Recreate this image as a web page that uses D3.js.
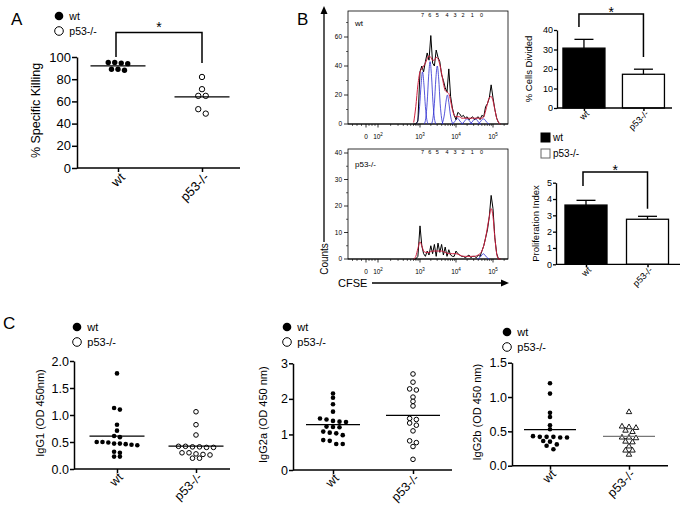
<!DOCTYPE html>
<html><head><meta charset="utf-8">
<script src="https://cdn.jsdelivr.net/npm/d3@7"></script>
<style>body{margin:0;background:#fff}svg{display:block}</style>
</head><body><svg id="c" width="683" height="513"></svg>
<script>
// ---------------- DATA ----------------
const groups = ["wt", "p53-/-"];

// Panel A: % specific killing
const killingTicks = [0, 20, 40, 60, 80, 100];
const killingWt = [95, 94, 94.5, 95, 89, 88, 89];
const killingP53 = [82, 71, 65, 65, 53, 49];
const killingSig = {top: 122, left: 100, right: 94.5};

// Panel B: % cells divided and proliferation index (mean, SEM)
const dividedTicks = [0, 10, 20, 30, 40];
const dividedMean = [30.7, 17.3];
const dividedSem = [4.5, 2.6];
const dividedSig = {top: 48.2, left: 41.5, right: 26.2};
const prolifTicks = [0, 1, 2, 3, 4, 5];
const prolifMean = [3.63, 2.76];
const prolifSem = [0.29, 0.18];
const prolifSig = {top: 5.66, left: 4.8, right: 3.4};

// Panel B: CFSE histograms (x = log10 CFSE, y = counts)
const cfseLog = [2.85, 2.90, 2.95, 3.00, 3.05, 3.10, 3.15, 3.20, 3.25, 3.30, 3.35, 3.40, 3.45, 3.50, 3.55, 3.60,
  3.65, 3.70, 3.75, 3.80, 3.85, 3.90, 3.95, 4.00, 4.05, 4.10, 4.15, 4.20, 4.25, 4.30, 4.35, 4.40,
  4.45, 4.50, 4.55, 4.60, 4.65, 4.70, 4.75, 4.80, 4.85, 4.90, 4.95, 5.00, 5.05, 5.10, 5.15, 5.20];
const wtCounts = [0, 0, 2, 36, 40, 36, 43, 49, 44, 61, 42, 40, 51, 46, 43, 34,
  30, 25, 22, 38, 19, 11, 6, 3, 8, 7, 5, 6, 4, 5, 3, 4,
  5, 3, 4, 5, 3, 6, 5, 12, 14, 18, 27, 18, 10, 4, 1, 0];
const wtFit = [1, 12, 27, 36, 38, 40, 42, 45, 47, 46, 44, 44, 46, 45, 41, 35,
  28, 23, 22, 21, 16, 10, 6, 5, 5, 5, 4, 4, 4, 4, 4, 4,
  4, 4, 4, 4, 4, 4, 5, 9, 14, 18, 19, 16, 10, 4, 1, 0];
const p53Counts = [0, 0, 1, 12.5, 5, 2, 1, 3, 1.5, 5, 2, 5.5, 1, 6, 2.5, 5.5,
  1.5, 4.5, 1, 3.5, 1.5, 1, 1, 3, 2, 1.5, 1, 1, 0.5, 1, 1.5, 0.5,
  1, 1, 0.5, 1.5, 1, 3, 5, 8, 11, 16, 24, 19, 8, 2, 0, 0];
const p53Fit = [0, 1, 4, 6.5, 5, 3, 2.5, 2.5, 2.5, 2.8, 3, 3, 3, 3, 3, 3,
  2.8, 2.5, 2.2, 2, 2, 2, 2, 2, 1.8, 1.5, 1.2, 1, 1, 1, 1, 1,
  1, 1, 1.2, 1.5, 2, 3, 5, 8, 12, 16, 19, 16, 8, 2, 0, 0];
// generation (division) peaks: offsets around each centre and heights
const peakOffsets = [-0.16, -0.12, -0.08, -0.04, 0, 0.04, 0.08, 0.12, 0.16];
const wtPeakCentres = [3.07, 3.28, 3.48, 3.76, 4.04, 4.30, 4.52, 4.74];
const wtPeakHeights = [
  [0, 3, 12, 27, 36, 27, 12, 3, 0],
  [0, 4, 15, 33, 43, 33, 15, 4, 0],
  [0, 4, 14, 31, 40, 31, 14, 4, 0],
  [0, 2, 7, 15, 20, 15, 7, 2, 0],
  [0, 0.5, 1.5, 3, 4, 3, 1.5, 0.5, 0],
  [0, 0.5, 1.5, 3, 3.5, 3, 1.5, 0.5, 0],
  [0, 0.5, 1.5, 3, 3.5, 3, 1.5, 0.5, 0],
  [0, 0.5, 1.5, 3, 3.5, 3, 1.5, 0.5, 0]];
const p53PeakCentres = [4.74];
const p53PeakHeights = [[0, 0.3, 0.8, 1.5, 2, 1.5, 0.8, 0.3, 0]];
const genLabels = ["7", "6", "5", "4", "3", "2", "1", "0"];
const genLabelPos = [3.07, 3.27, 3.48, 3.75, 3.97, 4.19, 4.44, 4.69];
const wtCountTicks = [0, 20, 40, 60];
const p53CountTicks = [0, 10, 20, 30, 40];

// Panel C: immunoglobulins
const igg1Ticks = [0, 0.5, 1.0, 1.5, 2.0];
const igg1Wt = [1.77, 1.13, 1.10, 0.82, 0.71, 0.61, 0.59, 0.50, 0.47, 0.45, 0.44, 0.46, 0.47, 0.49, 0.50, 0.32, 0.30, 0.23, 0.23];
const igg1P53 = [1.06, 0.82, 0.63, 0.41, 0.40, 0.42, 0.40, 0.41, 0.42, 0.30, 0.28, 0.26, 0.20, 0.20, 0.27, 0.30];
const igg2aTicks = [0, 1, 2, 3];
const igg2aWt = [2.15, 2.03, 1.85, 1.64, 1.45, 1.42, 1.38, 1.36, 1.35, 1.22, 1.21, 1.20, 1.08, 1.05, 1.03, 0.98, 0.84, 0.82, 0.73, 0.73];
const igg2aP53 = [2.70, 2.47, 2.28, 2.25, 2.05, 1.93, 1.80, 1.45, 1.42, 1.32, 1.26, 1.10, 0.82, 0.77, 0.66, 0.30];
const igg2bTicks = [0, 0.5, 1.0, 1.5];
const igg2bWt = [1.20, 1.05, 0.77, 0.71, 0.59, 0.53, 0.43, 0.42, 0.41, 0.36, 0.35, 0.41, 0.42, 0.42, 0.29, 0.31, 0.24];
const igg2bP53 = [0.79, 0.57, 0.56, 0.58, 0.50, 0.52, 0.41, 0.42, 0.42, 0.35, 0.36, 0.29, 0.23, 0.23, 0.17];

// ---------------- DRAWING ----------------
const FONT = '"Liberation Sans", Arial, Helvetica, sans-serif';
const svg = d3.select("#c").attr("font-family", FONT);

function styleAxis(a, size, lw) {
  a.attr("font-family", FONT).attr("font-size", size);
  a.selectAll(".domain").attr("stroke-width", lw).attr("stroke", "#000");
  a.selectAll(".tick line").attr("stroke-width", lw).attr("stroke", "#000");
  a.selectAll(".tick text").attr("fill", "#000");
}

function yTitle(text, x, y, size) {
  svg.append("text").attr("transform", `translate(${x},${y}) rotate(-90)`)
    .attr("text-anchor", "middle").attr("dy", "0.35em").attr("font-size", size).text(text);
}

function rotatedXAxis(x, y0, size, dx, dy, tick) {
  const xa = svg.append("g").attr("transform", `translate(0,${y0})`)
    .call(d3.axisBottom(x).tickSize(tick).tickSizeOuter(0));
  xa.select(".domain").remove();
  styleAxis(xa, size, 1.5);
  xa.selectAll(".tick text").attr("y", 0).attr("dy", "0.35em").attr("text-anchor", "end")
    .attr("transform", `translate(${dx},${dy}) rotate(-45)`);
}

function swarm(values, cx, y, gap, spacing) {
  const pts = values.map(v => ({v, y: y(v)})).sort((a, b) => a.y - b.y);
  const rows = [];
  pts.forEach(p => {
    const last = rows[rows.length - 1];
    if (last && p.y - last[0].y < gap) last.push(p); else rows.push([p]);
  });
  rows.forEach(row => {
    const n = row.length;
    const order = row.slice().sort((a, b) => a.v - b.v);
    row.forEach((p, i) => { p.x = cx + (i - (n - 1) / 2) * spacing; });
  });
  return pts;
}

function sigBracket(xl, xr, yTop, yl, yr, starOff, starSize) {
  svg.append("path").attr("d", `M${xl},${yl}V${yTop}H${xr}V${yr}`)
    .attr("fill", "none").attr("stroke", "#000").attr("stroke-width", 1.5);
  svg.append("text").attr("x", (xl + xr) / 2).attr("y", yTop - starOff + starSize * 0.57)
    .attr("text-anchor", "middle").attr("font-size", starSize).text("*");
}

function scatterPanel(c) {
  const y = d3.scaleLinear().domain([0, c.max]).range([c.y0, c.y1]);
  const x = d3.scalePoint().domain(groups).range(c.centers);
  const ya = svg.append("g").attr("transform", `translate(${c.ax},0)`)
    .call(d3.axisLeft(y).tickValues(c.ticks).tickFormat(c.fmt).tickSize(c.tick).tickSizeOuter(0).tickPadding(c.pad));
  styleAxis(ya, c.tickFont, 1.5);
  svg.append("line").attr("x1", c.ax).attr("x2", c.xEnd).attr("y1", c.y0).attr("y2", c.y0)
    .attr("stroke", "#000").attr("stroke-width", 1.5);
  rotatedXAxis(x, c.y0, c.labelFont, c.ldx, c.ldy, 4);
  yTitle(c.title, c.titleX, (c.y0 + c.y1) / 2 - 2, c.titleFont);
  c.sets.forEach((vals, gi) => {
    const cx = x(groups[gi]);
    const pts = swarm(vals, cx, y, c.gap, c.spacing[gi]);
    const shape = c.shapes[gi];
    pts.forEach(p => {
      if (shape === "triangle") {
        svg.append("path").attr("d", d3.symbol(d3.symbolTriangle, c.triSize)())
          .attr("transform", `translate(${p.x},${p.y + 0.6})`)
          .attr("fill", "#fff").attr("stroke", "#000").attr("stroke-width", 0.9);
      } else {
        svg.append("circle").attr("cx", p.x).attr("cy", p.y).attr("r", c.r)
          .attr("fill", shape === "filled" ? "#000" : "#fff")
          .attr("stroke", "#000").attr("stroke-width", shape === "filled" ? 0 : 1);
      }
    });
    const m = d3.mean(vals);
    svg.append("line").attr("x1", cx - c.half).attr("x2", cx + c.half).attr("y1", y(m)).attr("y2", y(m))
      .attr("stroke", c.lineColors[gi]).attr("stroke-width", 1.3);
  });
  return {x, y};
}

function circleLegend(x, y, gap, r, size) {
  groups.forEach((g, i) => {
    svg.append("circle").attr("cx", x).attr("cy", y + i * gap).attr("r", r)
      .attr("fill", i === 0 ? "#000" : "#fff").attr("stroke", "#000").attr("stroke-width", i === 0 ? 0 : 1);
    svg.append("text").attr("x", x + r + 6).attr("y", y + i * gap).attr("dy", "0.35em")
      .attr("font-size", size).text(g);
  });
}

function panelLabel(t, x, y) {
  svg.append("text").attr("x", x).attr("y", y).attr("font-size", 17).text(t);
}

// ---- Panel A ----
panelLabel("A", 11, 25);
circleLegend(59, 16, 15, 4.3, 10.5);
const A = scatterPanel({max: 100, y0: 168, y1: 57, ax: 77, xEnd: 240, centers: [118, 202],
  ticks: killingTicks, fmt: d3.format("d"), tick: 5, pad: 1, tickFont: 13,
  labelFont: 13, ldx: 4, ldy: 7, title: "% Specific Killing", titleX: 36, titleFont: 12.5,
  sets: [killingWt, killingP53], shapes: ["filled", "open"], r: 2.7, gap: 5, spacing: [6.5, 7.5],
  half: 27.5, lineColors: ["#000", "#000"]});
sigBracket(A.x("wt") - 2, A.x("p53-/-"), A.y(killingSig.top), A.y(killingSig.left), A.y(killingSig.right), 9, 14);

// ---- Panel C ----
panelLabel("C", 3, 329);
circleLegend(77, 327, 15, 4.3, 11);
scatterPanel({max: 2, y0: 469, y1: 361, ax: 74, xEnd: 230, centers: [117, 196],
  ticks: igg1Ticks, fmt: d3.format(".1f"), tick: 4, pad: 1, tickFont: 12.5,
  labelFont: 12.5, ldx: 3, ldy: 6, title: "IgG1 (OD 450nm)", titleX: 40, titleFont: 11,
  sets: [igg1Wt, igg1P53], shapes: ["filled", "open"], r: 2.3, gap: 4, spacing: [5.8, 7],
  half: 27.5, lineColors: ["#000", "#000"]});
circleLegend(287, 327, 15, 4.3, 11);
scatterPanel({max: 3, y0: 470, y1: 363.3, ax: 293, xEnd: 452, centers: [333, 413],
  ticks: igg2aTicks, fmt: d3.format("d"), tick: 4, pad: 1, tickFont: 12.5,
  labelFont: 12.5, ldx: 3, ldy: 6, title: "IgG2a (OD 450 nm)", titleX: 263, titleFont: 11,
  sets: [igg2aWt, igg2aP53], shapes: ["filled", "open"], r: 2.3, gap: 4, spacing: [6.5, 6.7],
  half: 27, lineColors: ["#000", "#000"]});
circleLegend(507, 332, 15, 4.3, 11);
scatterPanel({max: 1.5, y0: 465.7, y1: 362.7, ax: 512, xEnd: 668, centers: [550, 629],
  ticks: igg2bTicks, fmt: d3.format(".1f"), tick: 4, pad: 1, tickFont: 12.5,
  labelFont: 12.5, ldx: 3, ldy: 6, title: "IgG2b (OD 450 nm)", titleX: 477, titleFont: 11,
  sets: [igg2bWt, igg2bP53], shapes: ["filled", "triangle"], r: 2.3, gap: 4, spacing: [6.8, 7],
  triSize: 13, half: 26, lineColors: ["#000", "#777"]});

// ---- Panel B bars ----
function barPanel(c) {
  const y = d3.scaleLinear().domain([0, c.max]).range([c.y0, c.y1]);
  const x = d3.scaleBand().domain(groups).range(c.range).paddingInner(c.pi).paddingOuter(c.po);
  c.mean.forEach((m, i) => {
    const g = groups[i];
    const xc = x(g) + x.bandwidth() / 2;
    svg.append("line").attr("x1", xc).attr("x2", xc).attr("y1", y(m)).attr("y2", y(m + c.sem[i]))
      .attr("stroke", "#000").attr("stroke-width", 1.3);
    svg.append("line").attr("x1", xc - c.cap).attr("x2", xc + c.cap).attr("y1", y(m + c.sem[i])).attr("y2", y(m + c.sem[i]))
      .attr("stroke", "#000").attr("stroke-width", 1.3);
    svg.append("rect").attr("x", x(g)).attr("y", y(m)).attr("width", x.bandwidth()).attr("height", y(0) - y(m))
      .attr("fill", i === 0 ? "#000" : "#fff").attr("stroke", "#000").attr("stroke-width", 1.3);
  });
  const ya = svg.append("g").attr("transform", `translate(${c.ax},0)`)
    .call(d3.axisLeft(y).tickValues(c.ticks).tickFormat(d3.format("d")).tickSize(3).tickSizeOuter(0).tickPadding(1));
  styleAxis(ya, 9, 1.3);
  svg.append("line").attr("x1", c.ax).attr("x2", c.xEnd).attr("y1", c.y0).attr("y2", c.y0)
    .attr("stroke", "#000").attr("stroke-width", 1.3);
  const xp = d3.scalePoint().domain(groups).range([x(groups[0]) + x.bandwidth() / 2, x(groups[1]) + x.bandwidth() / 2]);
  rotatedXAxis(xp, c.y0, 9, 3, 4, 3);
  yTitle(c.title, c.titleX, (c.y0 + c.y1) / 2, c.titleFont);
  return {x: g => x(g) + x.bandwidth() / 2, y};
}
const B1 = barPanel({max: 40, y0: 108, y1: 30, ax: 557, xEnd: 672, range: [557, 670.4], pi: 0.294, po: 0.1,
  mean: dividedMean, sem: dividedSem, ticks: dividedTicks, cap: 9.5, title: "% Cells Divided", titleX: 529, titleFont: 9.5});
sigBracket(B1.x("wt") - 5, B1.x("p53-/-"), B1.y(dividedSig.top), B1.y(dividedSig.left), B1.y(dividedSig.right), 5, 14);
const B2 = barPanel({max: 5, y0: 264.3, y1: 182.7, ax: 556, xEnd: 680, range: [556, 677.5], pi: 0.317, po: 0.146,
  mean: prolifMean, sem: prolifSem, ticks: prolifTicks, cap: 9.5, title: "Proliferation Index", titleX: 536, titleFont: 9.5});
sigBracket(B2.x("wt") - 3, B2.x("p53-/-"), B2.y(prolifSig.top), B2.y(prolifSig.left), B2.y(prolifSig.right), 5, 14);
// bar legend
groups.forEach((g, i) => {
  svg.append("rect").attr("x", 541).attr("y", 133 + i * 16).attr("width", 9).attr("height", 9)
    .attr("fill", i === 0 ? "#000" : "#fff").attr("stroke", i === 0 ? "#000" : "#666").attr("stroke-width", 1);
  svg.append("text").attr("x", 553).attr("y", 137.5 + i * 16).attr("dy", "0.35em").attr("font-size", 10).text(g);
});

// ---- Panel B histograms ----
panelLabel("B", 297, 25);
const cfseX = d3.scaleLinear().domain([-2, 0, 2, 3, 4, 5]).range([348, 366, 378, 420, 456, 493]);
const cfseMajor = [0, 2, 3, 4, 5];
const cfseMinor = [-1.5, -1, -0.5, 0.5, 1, 1.5].concat(
  [2, 3, 4].flatMap(d => d3.range(2, 10).map(k => d + Math.log10(k))), [5 + Math.log10(2)]);

function histPanel(c) {
  const y = d3.scaleLinear().domain([0, c.max]).range([c.y0, c.y1]);
  const g = svg.append("g");
  g.append("rect").attr("x", 348).attr("y", c.top).attr("width", 160).attr("height", c.y0 - c.top)
    .attr("fill", "none").attr("stroke", "#000").attr("stroke-width", 0.8);
  // y ticks
  c.ticks.forEach(t => {
    g.append("line").attr("x1", 344).attr("x2", 348).attr("y1", y(t)).attr("y2", y(t)).attr("stroke", "#000").attr("stroke-width", 0.8);
    g.append("text").attr("x", 342).attr("y", y(t)).attr("dy", "0.35em").attr("text-anchor", "end")
      .attr("font-size", 6.5).text(t);
  });
  c.minor.forEach(t => {
    if (y(t) > c.top) g.append("line").attr("x1", 346).attr("x2", 348).attr("y1", y(t)).attr("y2", y(t)).attr("stroke", "#000").attr("stroke-width", 0.6);
  });
  // x ticks
  cfseMinor.forEach(t => g.append("line").attr("x1", cfseX(t)).attr("x2", cfseX(t)).attr("y1", c.y0).attr("y2", c.y0 + 2)
    .attr("stroke", "#000").attr("stroke-width", 0.6));
  cfseMajor.forEach(t => {
    g.append("line").attr("x1", cfseX(t)).attr("x2", cfseX(t)).attr("y1", c.y0).attr("y2", c.y0 + 3.5)
      .attr("stroke", "#000").attr("stroke-width", 0.8);
    const tx = g.append("text").attr("x", cfseX(t)).attr("y", c.y0 + 15).attr("text-anchor", "middle").attr("font-size", 6.5);
    if (t === 0) tx.text("0");
    else { tx.append("tspan").text("10"); tx.append("tspan").attr("dy", -3).attr("font-size", 4.5).text(t); }
  });
  g.append("line").attr("x1", 348).attr("x2", 508).attr("y1", c.y0).attr("y2", c.y0).attr("stroke", "#000").attr("stroke-width", 1.2);
  // curves
  const line = d3.line().x(d => cfseX(d[0])).y(d => y(d[1]));
  c.peakCentres.forEach((cc, i) => {
    g.append("path").attr("d", line.curve(d3.curveMonotoneX)(peakOffsets.map((o, j) => [cc + o, c.peakHeights[i][j]])))
      .attr("fill", "none").attr("stroke", "#2b2bd0").attr("stroke-width", 0.8);
  });
  g.append("path").attr("d", line.curve(d3.curveLinear)(cfseLog.map((v, i) => [v, c.counts[i]])))
    .attr("fill", "none").attr("stroke", "#000").attr("stroke-width", 1);
  g.append("path").attr("d", line.curve(d3.curveMonotoneX)(cfseLog.map((v, i) => [v, c.fit[i]])))
    .attr("fill", "none").attr("stroke", "#d02040").attr("stroke-width", 1);
  // labels
  g.append("text").attr("x", 355).attr("y", c.labelY).attr("dy", "0.35em").attr("font-size", 8).text(c.label);
  genLabels.forEach((t, i) => g.append("text").attr("x", cfseX(genLabelPos[i])).attr("y", c.genY).attr("dy", "0.35em")
    .attr("text-anchor", "middle").attr("font-size", 5.5).text(t));
}
histPanel({max: 60, y0: 124, y1: 37, top: 11, ticks: wtCountTicks, minor: [10, 30, 50, 70], counts: wtCounts, fit: wtFit,
  peakCentres: wtPeakCentres, peakHeights: wtPeakHeights, label: "wt", labelY: 23, genY: 15});
histPanel({max: 40, y0: 259, y1: 153, top: 149, ticks: p53CountTicks, minor: [5, 15, 25, 35], counts: p53Counts, fit: p53Fit,
  peakCentres: p53PeakCentres, peakHeights: p53PeakHeights, label: "p53-/-", labelY: 164, genY: 152});

// axes arrows
svg.append("line").attr("x1", 324).attr("x2", 324).attr("y1", 13).attr("y2", 242).attr("stroke", "#000").attr("stroke-width", 1.3);
svg.append("path").attr("d", "M324,6L320.5,14L327.5,14Z").attr("fill", "#000");
yTitle("Counts", 324, 259, 10);
svg.append("text").attr("x", 338).attr("y", 287).attr("font-size", 11).text("CFSE");
svg.append("line").attr("x1", 372).attr("x2", 502).attr("y1", 283).attr("y2", 283).attr("stroke", "#000").attr("stroke-width", 1.3);
svg.append("path").attr("d", "M509,283L501,279.5L501,286.5Z").attr("fill", "#000");
</script></body></html>
